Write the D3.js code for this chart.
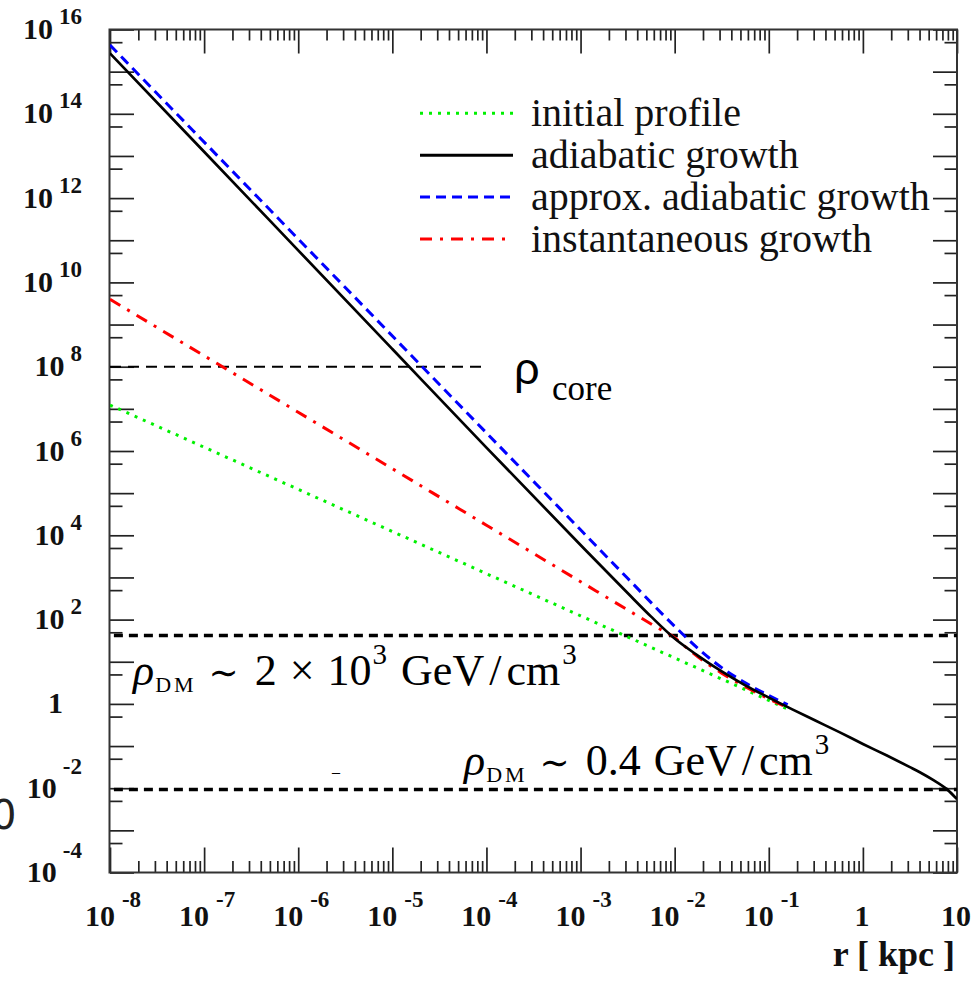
<!DOCTYPE html>
<html>
<head>
<meta charset="utf-8">
<script src="https://cdn.jsdelivr.net/npm/d3@7"></script>
<style>
  html, body { margin: 0; padding: 0; background: #fff; }
  svg { display: block; }
</style>
</head>
<body>
<svg id="chart" width="974" height="981"></svg>
<script>
// ---------- data (log10 values) ----------
const logR_initial   = [-8, -7, -6, -5, -4, -3, -2.5, -2, -1.5, -1, -0.8];
const logRho_initial = [7.09, 6.09, 5.09, 4.09, 3.09, 2.09, 1.59, 1.09, 0.59, 0.085, -0.12];

const logR_adiabatic   = [-8, -7, -6, -5, -4, -3, -2.5, -2.25, -2, -1.75, -1.5, -1.25, -1, -0.75, -0.5, -0.25, 0, 0.25, 0.5, 0.6, 0.75, 0.9, 1];
const logRho_adiabatic = [15.435, 13.10, 10.76, 8.42, 6.08, 3.77, 2.63, 2.07, 1.55, 1.14, 0.77, 0.44, 0.15, -0.13, -0.40, -0.67, -0.95, -1.22, -1.50, -1.615, -1.81, -2.04, -2.26];

const logR_approx   = [-8, -6, -4, -3, -2.5, -2, -1.75, -1.5, -1.25, -1, -0.8];
const logRho_approx = [15.63, 11.03, 6.43, 4.13, 2.98, 1.84, 1.31, 0.86, 0.50, 0.20, -0.02];

const logR_instant   = [-8, -7, -6, -5, -4, -3, -2.5, -2.2, -2, -1.9, -1.75, -1.5, -1.25, -1, -0.8];
const logRho_instant = [9.60, 8.26, 6.92, 5.58, 4.24, 2.90, 2.23, 1.83, 1.57, 1.38, 1.11, 0.73, 0.41, 0.12, -0.09];

// reference lines: [rStart, rEnd, rho]
const coreLine = [1e-8, 1e-4, 1e8];
const dmLine1  = [1.1e-8, 10, 41.7];
const dmLine2  = [1.1e-8, 10, 0.0093];

const legendLabels = ["initial profile", "adiabatic growth", "approx. adiabatic growth", "instantaneous growth"];

// tick labels
const xTickValues = [1e-8, 1e-7, 1e-6, 1e-5, 1e-4, 1e-3, 1e-2, 1e-1, 1, 10];
const xTickLabels = [["10","-8"],["10","-7"],["10","-6"],["10","-5"],["10","-4"],["10","-3"],["10","-2"],["10","-1"],["1",""],["10",""]];
const yTickValues = [1e16, 1e14, 1e12, 1e10, 1e8, 1e6, 1e4, 1e2, 1, 1e-2, 1e-4];
const yTickLabels = [["10","16"],["10","14"],["10","12"],["10","10"],["10","8"],["10","6"],["10","4"],["10","2"],["1",""],["10","-2"],["10","-4"]];

// ---------- layout ----------
const L = 110, R = 957, T = 29.5, B = 872.5;
const svg = d3.select("#chart");
const x = d3.scaleLog().domain([1e-8, 10]).range([L, R]);
const y = d3.scaleLog().domain([1e-4, 1e16]).range([B, T]);

// tick positions
const xMajor = d3.range(-8, 2).map(e => Math.pow(10, e));
const xMinor = [];
for (let e = -8; e < 1; e++) for (let m = 2; m <= 9; m++) xMinor.push(m * Math.pow(10, e));
const yMajor = d3.range(-4, 17).map(e => Math.pow(10, e));
const yMinor = d3.range(-4, 16).map(e => 5 * Math.pow(10, e));

const tickColor = "#222";
function styleAxis(g) {
  g.select(".domain").remove();
  g.selectAll(".tick line").attr("stroke", tickColor).attr("stroke-width", 1.7);
  g.selectAll(".tick text").remove();
}
// bottom
svg.append("g").attr("transform", `translate(0,${B})`).call(d3.axisBottom(x).tickValues(xMajor).tickSize(-25).tickFormat("")).call(styleAxis);
svg.append("g").attr("transform", `translate(0,${B})`).call(d3.axisBottom(x).tickValues(xMinor).tickSize(-11.5).tickFormat("")).call(styleAxis);
// top
svg.append("g").attr("transform", `translate(0,${T})`).call(d3.axisTop(x).tickValues(xMajor).tickSize(-24).tickFormat("")).call(styleAxis);
svg.append("g").attr("transform", `translate(0,${T})`).call(d3.axisTop(x).tickValues(xMinor).tickSize(-11).tickFormat("")).call(styleAxis);
// left
svg.append("g").attr("transform", `translate(${L},0)`).call(d3.axisLeft(y).tickValues(yMajor).tickSize(-24).tickFormat("")).call(styleAxis);
svg.append("g").attr("transform", `translate(${L},0)`).call(d3.axisLeft(y).tickValues(yMinor).tickSize(-12.5).tickFormat("")).call(styleAxis);
// right
svg.append("g").attr("transform", `translate(${R},0)`).call(d3.axisRight(y).tickValues(yMajor).tickSize(-24).tickFormat("")).call(styleAxis);
svg.append("g").attr("transform", `translate(${R},0)`).call(d3.axisRight(y).tickValues(yMinor).tickSize(-12.5).tickFormat("")).call(styleAxis);

// frame
svg.append("rect").attr("x", L - 0.5).attr("y", T).attr("width", R - L + 0.5).attr("height", B - T)
  .attr("fill", "none").attr("stroke", "#333").attr("stroke-width", 2);

// ---------- axis labels ----------
const tickFont = "'Liberation Serif', 'Times New Roman', serif";
xTickValues.forEach((v, i) => {
  const [base, ex] = xTickLabels[i];
  const t = svg.append("text").attr("x", x(v) + (ex ? 3 : -1)).attr("y", 926)
    .attr("text-anchor", "middle").attr("font-family", tickFont).attr("font-weight", "bold")
    .attr("font-size", 30).attr("fill", "#111");
  t.append("tspan").text(base);
  if (ex) t.append("tspan").attr("dx", 7).attr("dy", -19).attr("font-size", 23).text(ex);
});
yTickValues.forEach((v, i) => {
  const [base, ex] = yTickLabels[i];
  const t = svg.append("text").attr("x", ex ? 82 : 63).attr("y", y(v) + 9.5)
    .attr("text-anchor", "end").attr("font-family", tickFont).attr("font-weight", "bold")
    .attr("font-size", 30).attr("fill", "#111");
  t.append("tspan").text(base);
  if (ex) t.append("tspan").attr("dx", 6).attr("dy", ex.startsWith("-") ? -24 : -15).attr("font-size", 23).text(ex);
});
svg.append("text").attr("x", 955).attr("y", 966).attr("text-anchor", "end")
  .attr("font-family", tickFont).attr("font-weight", "bold").attr("font-size", 36).attr("fill", "#111")
  .text("r [ kpc ]");
// cut-off fragment at left edge (as in the reference)
svg.append("text").attr("x", -9).attr("y", 829).attr("font-family", "'DejaVu Sans', sans-serif")
  .attr("font-size", 40).attr("fill", "#222").text("0");

// ---------- reference lines ----------
function hline(d, width, dash) {
  svg.append("line").attr("x1", x(d[0])).attr("x2", x(d[1])).attr("y1", y(d[2])).attr("y2", y(d[2]))
    .attr("stroke", "#000").attr("stroke-width", width).attr("stroke-dasharray", dash);
}
hline(coreLine, 2, "11,7");
hline(dmLine1, 3.5, "9,6");
hline(dmLine2, 3.5, "9,6");

// ---------- curves ----------
const line = d3.line().x(d => x(Math.pow(10, d[0]))).y(d => y(Math.pow(10, d[1]))).curve(d3.curveMonotoneX);
const zip = (a, b) => a.map((v, i) => [v, b[i]]);
const green = "#00f000";
const series = [
  { r: logR_initial, v: logRho_initial, color: green, w: 3, dash: "3,6" },
  { r: logR_instant, v: logRho_instant, color: "#ff0000", w: 3, dash: "12,8,3,8" },
  { r: logR_approx, v: logRho_approx, color: "#0000ff", w: 3, dash: "10,6" },
  { r: logR_adiabatic, v: logRho_adiabatic, color: "#000000", w: 2.7, dash: null },
];
svg.append("clipPath").attr("id", "plotclip").append("rect")
  .attr("x", L).attr("y", T).attr("width", R - L).attr("height", B - T);
series.forEach(s => {
  svg.append("path").attr("d", line(zip(s.r, s.v))).attr("fill", "none")
    .attr("clip-path", "url(#plotclip)")
    .attr("stroke", s.color).attr("stroke-width", s.w).attr("stroke-dasharray", s.dash);
});

// ---------- legend ----------
const legStyles = [
  { color: green, w: 3, dash: "3,6" },
  { color: "#000000", w: 3, dash: null },
  { color: "#0000ff", w: 3, dash: "10,6" },
  { color: "#ff0000", w: 3, dash: "12,8,3,8" },
];
legendLabels.forEach((lab, i) => {
  const cy = 113.3 + i * 41.9;
  svg.append("line").attr("x1", 420).attr("x2", 513).attr("y1", cy).attr("y2", cy)
    .attr("stroke", legStyles[i].color).attr("stroke-width", legStyles[i].w).attr("stroke-dasharray", legStyles[i].dash);
  svg.append("text").attr("x", 531).attr("y", cy + 13).attr("font-family", tickFont)
    .attr("font-size", 40).attr("fill", "#111").text(lab);
});

// ---------- annotations ----------
const annFont = "'Liberation Serif', 'Times New Roman', serif";
svg.append("text").attr("x", 514).attr("y", 384).attr("font-family", "'Liberation Sans', Arial, sans-serif")
  .attr("font-size", 45).attr("fill", "#000").text("ρ");
svg.append("text").attr("x", 552).attr("y", 400).attr("font-family", annFont)
  .attr("font-size", 35).attr("fill", "#000").text("core");

function dmLabel(x0, yb, parts) {
  const t = svg.append("text").attr("x", x0).attr("y", yb).attr("font-family", annFont)
    .attr("font-size", 44).attr("fill", "#000");
  t.append("tspan").attr("font-style", "italic").text("ρ");
  t.append("tspan").attr("font-size", 22).attr("dy", 7).attr("dx", 1).attr("letter-spacing", 3).text("DM");
  t.append("tspan").attr("dy", -7).attr("dx", 12).attr("font-family", "'DejaVu Serif', serif").attr("font-size", 36).text("∼");
  parts.forEach(p => {
    const s = t.append("tspan").attr("dx", p.dx).text(p.text);
    if (p.sup) s.attr("font-size", 29).attr("dy", -21);
    if (p.down) s.attr("dy", 21);
  });
}
dmLabel(133, 685, [
  { text: "2", dx: 16 }, { text: "×", dx: 13 }, { text: "10", dx: 13 },
  { text: "3", dx: 1, sup: true }, { text: "GeV", dx: 14, down: true },
  { text: "/", dx: 5 }, { text: "cm", dx: 5 }, { text: "3", dx: 2, sup: true }
]);
dmLabel(464, 775, [
  { text: "0.4", dx: 16 }, { text: "GeV", dx: 13 },
  { text: "/", dx: 5 }, { text: "cm", dx: 5 }, { text: "3", dx: 2, sup: true }
]);
svg.append("text").attr("x", 332).attr("y", 777).attr("font-family", annFont).attr("font-size", 16).attr("fill", "#000").text("–");
</script>
</body>
</html>
